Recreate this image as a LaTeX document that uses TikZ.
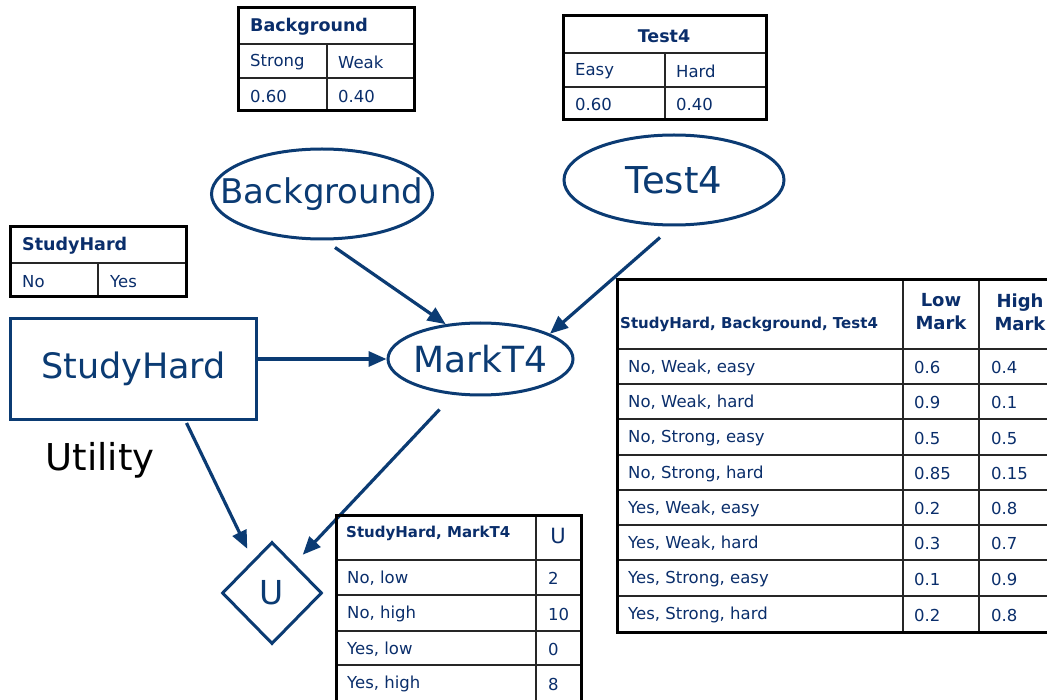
\documentclass[tikz,border=0pt]{standalone}
\usepackage{fontspec}
\setmainfont{DejaVu Sans}
\usetikzlibrary{shapes.geometric,arrows.meta}
\definecolor{navy}{HTML}{0B3B73}
\definecolor{tabtext}{HTML}{0A2E6B}
\newcommand{\zw}[1]{\makebox[0pt]{#1}}
\begin{document}
\begin{tikzpicture}[x=1pt,y=-1pt,
  bignode/.style={draw=navy,line width=3pt,text=navy,inner sep=0pt,font=\fontsize{33}{38}\selectfont},
  conn/.style={draw=navy,line width=3.2pt,-{Triangle[length=18pt,width=15pt]}},
  tabout/.style={draw=black,line width=3pt},
  tabin/.style={draw=black!85,line width=1.3pt},
  cell/.style={text=tabtext,inner sep=0pt,anchor=west,font=\fontsize{16.5}{19}\selectfont},
  cellc/.style={cell,anchor=center},
  head/.style={text=tabtext,inner sep=0pt,anchor=west,font=\bfseries\fontsize{17.5}{20}\selectfont},
  headsm/.style={head,font=\bfseries\fontsize{15}{18}\selectfont},
  headmk/.style={head,anchor=center,align=center,font=\bfseries\fontsize{18}{23}\selectfont}]
\useasboundingbox (0,0) rectangle (1047,700);
\clip (0,0) rectangle (1047,700);
\fill[white] (0,0) rectangle (1047,700);

% ---- graph nodes
\node[bignode,ellipse,minimum width=221pt,minimum height=90pt,font=\fontsize{34}{40}\selectfont] (bg) at (322,194) {\zw{Background}};
\node[bignode,ellipse,minimum width=220pt,minimum height=90pt,font=\fontsize{37}{42}\selectfont] (t4) at (674,180) {\zw{Test4}};
\node[bignode,ellipse,minimum width=185pt,minimum height=72pt,font=\fontsize{36}{40}\selectfont] (m) at (480.5,359) {\zw{MarkT4}};
\node[bignode,rectangle,minimum width=246pt,minimum height=101pt,font=\fontsize{35}{40}\selectfont] (sh) at (133.5,369) {\zw{StudyHard}};
\node[bignode,diamond,minimum width=100pt,minimum height=102pt,font=\fontsize{33}{38}\selectfont] (u) at (272,593) {\zw{U}};
\node[inner sep=0pt,text=black,font=\fontsize{37}{40}\selectfont] (util) at (100,460) {Utility};

% ---- connectors
\draw[conn] ([shift={(13,7)}]bg.south) -- (m.135);
\draw[conn] ([shift={(-14,11)}]t4.south) -- (m.20);
\draw[conn] (sh.east |- m.west) -- (m.west);
\draw[conn] ([shift={(-41,13)}]m.south) -- ([shift={(5,-12)}]u.north east);
\draw[conn] ([shift={(53,2)}]sh.south) -- ([shift={(1,-18)}]u.north west);

% ---- Background table
\draw[tabin] (238,44) -- (414,44) (238,78) -- (414,78) (327,44) -- (327,111);
\draw[tabout] (238,8) rectangle (414,111);
\node[head] (bgh) at (250,27) {Background};
\node[cell] (bg1) at (250,62) {Strong};
\node[cell] (bg2) at (338,62) {Weak};
\node[cell] (bg3) at (250,96) {0.60};
\node[cell] (bg4) at (338,96) {0.40};

% ---- Test4 table
\draw[tabin] (563,53) -- (766,53) (563,87) -- (766,87) (665,53) -- (665,120);
\draw[tabout] (563,16) rectangle (766,120);
\node[head,anchor=center] (t4h) at (664,36) {Test4};
\node[cell] (t41) at (575,71) {Easy};
\node[cell] (t42) at (676,71) {Hard};
\node[cell] (t43) at (575,104) {0.60};
\node[cell] (t44) at (676,104) {0.40};

% ---- StudyHard table
\draw[tabin] (10,263) -- (186,263) (98,263) -- (98,297);
\draw[tabout] (10,227) rectangle (186,297);
\node[head] (shh) at (22,246) {StudyHard};
\node[cell] (sh1) at (22,282) {No};
\node[cell] (sh2) at (110,282) {Yes};

% ---- MarkT4 CPT
\foreach \yy in {349,384,419,455,490,525,560,596} \draw[tabin] (617,\yy) -- (1060,\yy);
\draw[tabin] (903,280) -- (903,632) (979,280) -- (979,632);
\draw[tabout] (617,280) rectangle (1060,632);
\node[headsm] (cpth) at (620,324) {StudyHard, Background, Test4};
\node[headmk] (cptl) at (941,312) {Low\\Mark};
\node[headmk] (cpthi) at (1020,312) {High\\Mark};
\foreach \lab/\lo/\hi/\yy [count=\i] in {
  {No, Weak, easy}/0.6/0.4/367.5,
  {No, Weak, hard}/0.9/0.1/402.5,
  {No, Strong, easy}/0.5/0.5/438,
  {No, Strong, hard}/0.85/0.15/473.5,
  {Yes, Weak, easy}/0.2/0.8/508.5,
  {Yes, Weak, hard}/0.3/0.7/543.5,
  {Yes, Strong, easy}/0.1/0.9/579,
  {Yes, Strong, hard}/0.2/0.8/615} {
  \node[cell] (cr\i) at (628,\yy) {\lab};
  \node[cell] (cl\i) at (914,\yy) {\lo};
  \node[cell] (ch\i) at (991,\yy) {\hi};
}

% ---- Utility table
\draw[tabin] (336,560) -- (581,560) (336,595) -- (581,595) (336,631) -- (581,631) (336,665) -- (581,665) (536,515) -- (536,710);
\draw[tabout] (336,515) rectangle (581,710);
\node[headsm] (uh) at (346,533) {StudyHard, MarkT4};
\node[cellc,font=\fontsize{21}{24}\selectfont] (uhu) at (558,536) {U};
\foreach \lab/\val/\yy [count=\i] in {{No, low}/2/578,{No, high}/10/614,{Yes, low}/0/649,{Yes, high}/8/684} {
  \node[cell] (ur\i) at (347,\yy) {\lab};
  \node[cell] (uv\i) at (548,\yy) {\val};
}
\end{tikzpicture}
\end{document}
